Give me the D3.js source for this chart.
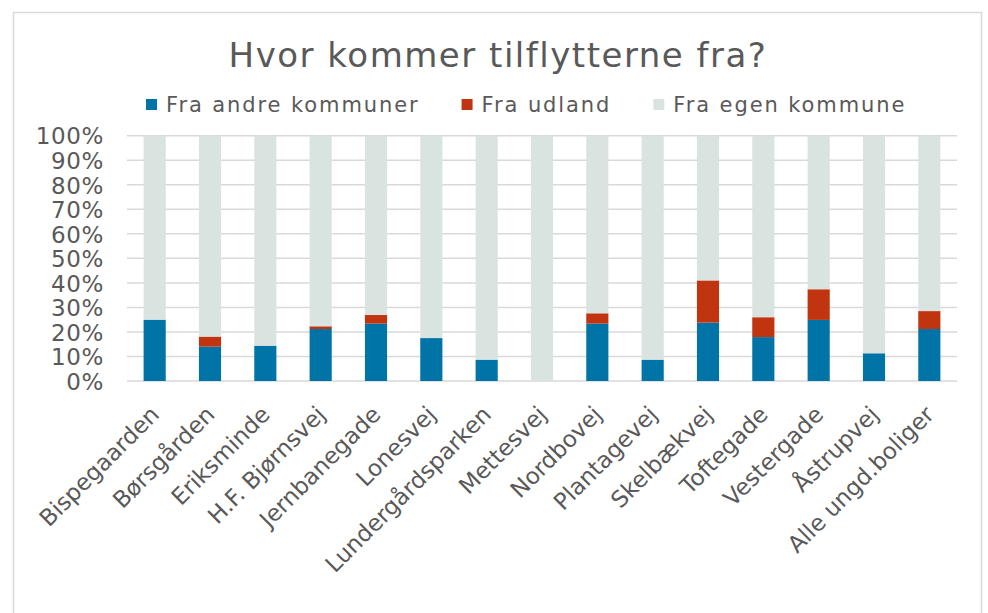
<!DOCTYPE html>
<html lang="da">
<head>
<meta charset="UTF-8">
<title>Hvor kommer tilflytterne fra?</title>
<script src="https://d3js.org/d3.v7.min.js"></script>
<style>
    body{
        margin: 0;
        background-color: #ffffff;
        font-family: Verdana, 'DejaVu Sans', sans-serif;
    }
    svg text{
        fill: #595959;
    }
</style>
</head>
<body>
<div id="chart"></div>
<script>

    // categories (boligområder)
    var categories = ["Bispegaarden", "Børsgården", "Eriksminde", "H.F. Bjørnsvej", "Jernbanegade",
        "Lonesvej", "Lundergårdsparken", "Mettesvej", "Nordbovej", "Plantagevej",
        "Skelbækvej", "Toftegade", "Vestergade", "Åstrupvej", "Alle ungd.boliger"];

    // shares (%)
    var andreKommuner = [25.0, 14.0, 14.4, 21.2, 23.4, 17.5, 8.7, 0, 23.4, 8.7, 23.8, 17.9, 24.9, 11.3, 21.2];
    var udland        = [0,    4.1,  0,    1.1,  3.5,  0,    0,   0, 4.2,  0,   17.2, 8.1,  12.5, 0,    7.3];
    var egenKommune   = [75.0, 81.9, 85.6, 77.7, 73.1, 82.5, 91.3, 100, 72.4, 91.3, 59.0, 74.0, 62.6, 88.7, 71.5];

    var seriesNames = ["Fra andre kommuner", "Fra udland", "Fra egen kommune"];
    var seriesColors = ["#0074a6", "#c0340f", "#d9e3e0"];
    var yTicks = [0, 0.1, 0.2, 0.3, 0.4, 0.5, 0.6, 0.7, 0.8, 0.9, 1];

    var width = 988, height = 613;
    var plot = {left: 127, right: 957, top: 135.7, bottom: 381};

    var svg = d3.select("#chart")
        .append("svg")
        .attr("width", width)
        .attr("height", height);

    // chart frame
    svg.append("rect")
        .attr("x", 13.5)
        .attr("y", 12.5)
        .attr("width", 968)
        .attr("height", 640)
        .attr("fill", "#ffffff")
        .attr("stroke", "#d9d9d9")
        .attr("stroke-width", 1.5);

    // title
    svg.append("text")
        .attr("x", 498)
        .attr("y", 66.5)
        .attr("text-anchor", "middle")
        .style("font-size", "34px")
        .style("letter-spacing", "1.5px")
        .text("Hvor kommer tilflytterne fra?");

    // build table for stacking
    var table = categories.map(function(c, i){
        var row = {cat: c};
        row[seriesNames[0]] = andreKommuner[i] / 100;
        row[seriesNames[1]] = udland[i] / 100;
        row[seriesNames[2]] = egenKommune[i] / 100;
        return row;
    });

    var stacked = d3.stack().keys(seriesNames)(table);

    var xScale = d3.scaleBand()
        .domain(categories)
        .range([plot.left, plot.right])
        .paddingInner(0.6)
        .paddingOuter(0.3);

    var yScale = d3.scaleLinear()
        .domain([0, 1])
        .range([plot.bottom, plot.top]);

    // gridlines
    svg.append("g")
        .selectAll("line")
        .data(yTicks)
        .join("line")
            .attr("x1", plot.left)
            .attr("x2", plot.right)
            .attr("y1", function(d){ return yScale(d); })
            .attr("y2", function(d){ return yScale(d); })
            .attr("stroke", "#d9d9d9")
            .attr("stroke-width", 1.5);

    // y axis labels
    var yAxis = svg.append("g")
        .attr("transform", "translate(" + (plot.left - 23) + ",0)")
        .call(d3.axisLeft(yScale).tickValues(yTicks).tickFormat(d3.format(".0%")).tickSize(0).tickPadding(0));
    yAxis.select(".domain").remove();
    yAxis.selectAll("text")
        .attr("dy", "0.36em")
        .style("font-size", "23px")
        .style("letter-spacing", "0.6px")
        .style("font-family", "Verdana, 'DejaVu Sans', sans-serif")
        .style("fill", "#595959");

    // bars
    svg.append("g")
        .selectAll("g")
        .data(stacked)
        .join("g")
            .attr("fill", function(d, i){ return seriesColors[i]; })
        .selectAll("rect")
        .data(function(d){ return d; })
        .join("rect")
            .attr("x", function(d){ return xScale(d.data.cat); })
            .attr("y", function(d){ return yScale(d[1]); })
            .attr("width", xScale.bandwidth())
            .attr("height", function(d){ return yScale(d[0]) - yScale(d[1]); });

    // x axis labels, rotated
    var xAxis = svg.append("g")
        .attr("transform", "translate(0," + plot.bottom + ")")
        .call(d3.axisBottom(xScale).tickSize(0).tickPadding(0));
    xAxis.select(".domain").remove();
    xAxis.selectAll("text")
        .attr("y", 0)
        .attr("dy", 0)
        .attr("text-anchor", "end")
        .attr("transform", "translate(6,35) rotate(-45)")
        .style("font-size", "23px")
        .style("font-family", "Verdana, 'DejaVu Sans', sans-serif")
        .style("fill", "#595959");

    // legend
    var legend = svg.append("g").attr("transform", "translate(146,0)");
    var lx = 0;
    seriesNames.forEach(function(name, i){
        var item = legend.append("g").attr("transform", "translate(" + lx + ",0)");
        item.append("rect")
            .attr("x", 0)
            .attr("y", 99)
            .attr("width", 11)
            .attr("height", 11)
            .attr("fill", seriesColors[i]);
        var t = item.append("text")
            .attr("x", 20)
            .attr("y", 112)
            .style("font-size", "21px")
            .style("letter-spacing", "1.9px")
            .text(name);
        lx += 20 + t.node().getComputedTextLength() + 42;
    });

</script>
</body>
</html>
